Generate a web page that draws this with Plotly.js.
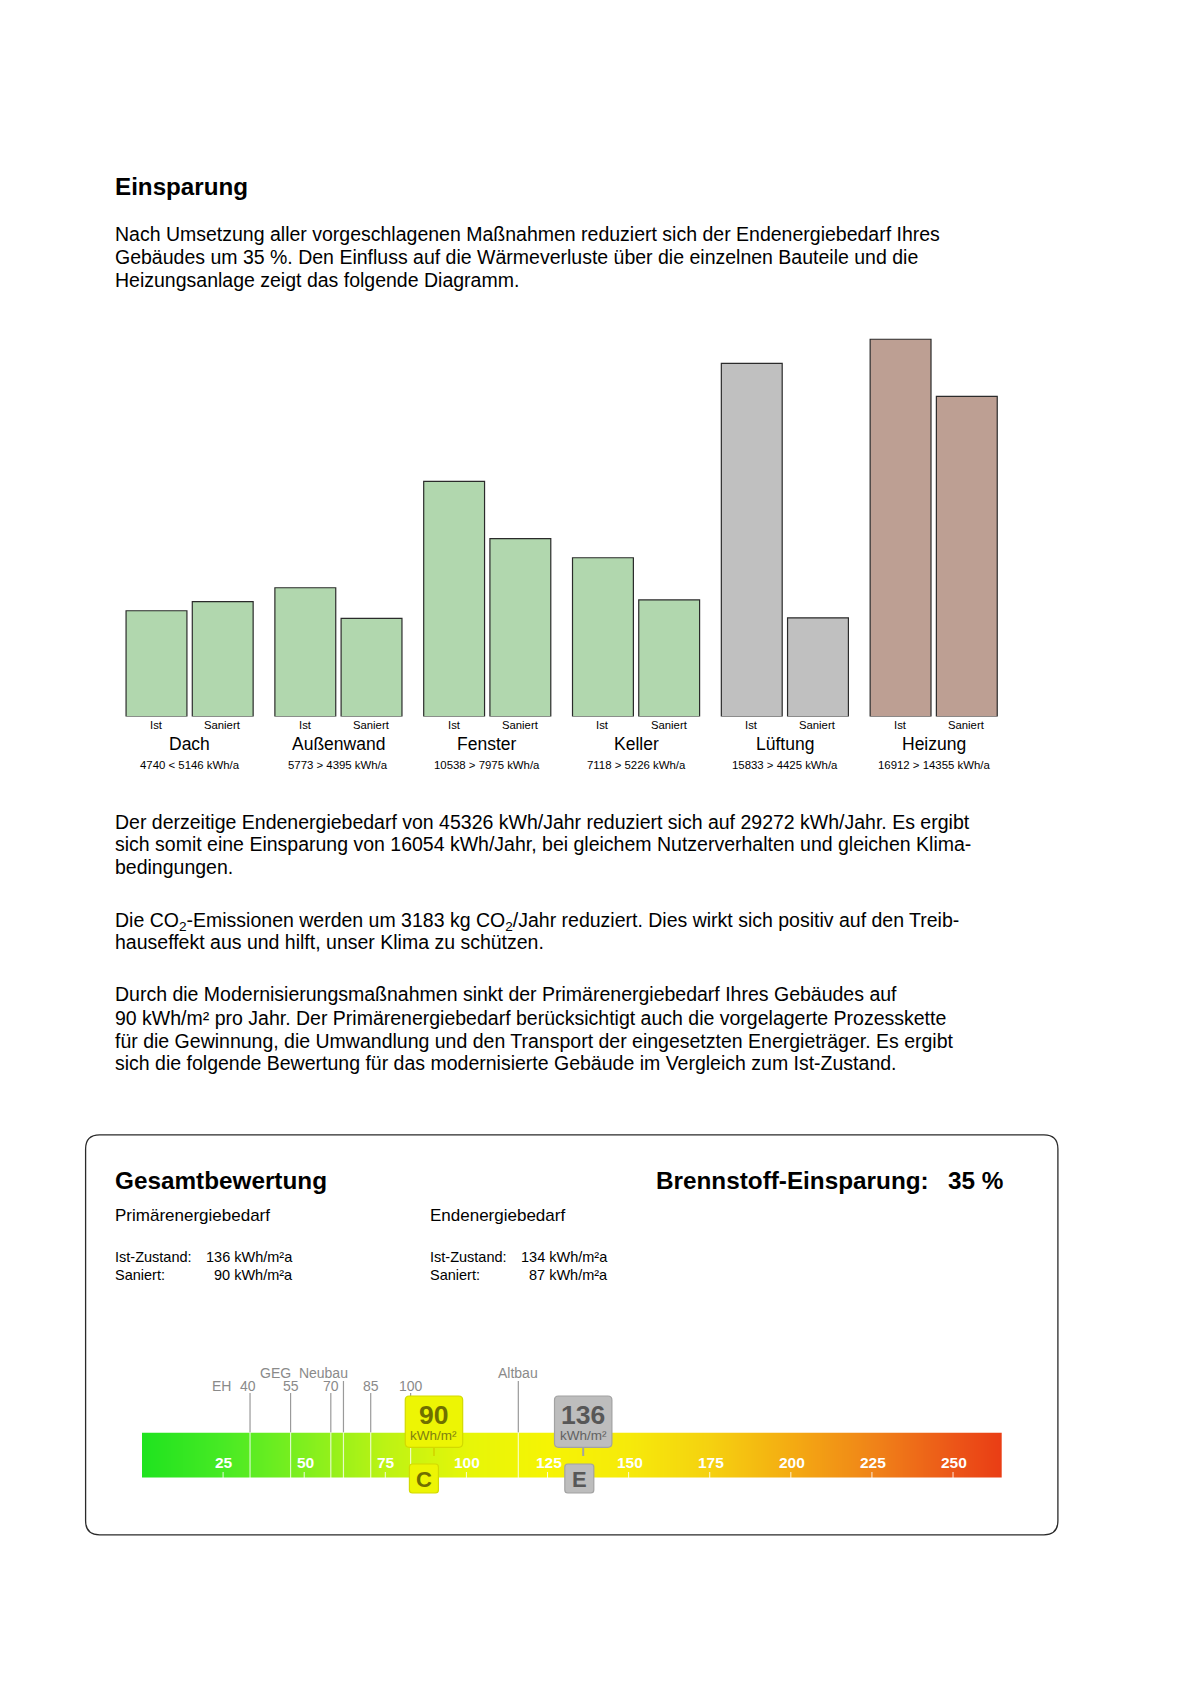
<!DOCTYPE html>
<html><head><meta charset="utf-8">
<script src="https://cdn.plot.ly/plotly-3.0.1.min.js"></script>
<style>html,body{margin:0;padding:0;background:#fff}#chart{width:1202px;height:1700px}</style>
</head><body><div id="chart"></div>
<script>
// ---------------- DATA ----------------
const categories = ["Dach", "Außenwand", "Fenster", "Keller", "Lüftung", "Heizung"];
const istValues = [4740, 5773, 10538, 7118, 15833, 16912];
const saniertValues = [5146, 4395, 7975, 5226, 4425, 14355];
const barLabels = ["Ist", "Saniert"];
const valueUnit = "kWh/a";

const endenergieIstJahr = 45326;
const endenergieSaniertJahr = 29272;
const endenergieEinsparungJahr = 16054;
const co2Reduktion = 3183;
const einsparungProzent = 35;

const primaerValues = [136, 90];   // Ist-Zustand, Saniert (kWh/m²a)
const endValues = [134, 87];       // Ist-Zustand, Saniert (kWh/m²a)

const scaleTicks = [25, 50, 75, 100, 125, 150, 175, 200, 225, 250];
const scaleMax = 265;
const refValues = [33.3, 45.8, 58.2, 62.1, 70.5, 82.8, 116];
const refLabels = ["40", "55", "70", "GEG\u00a0 Neubau", "85", "100", "Altbau"];
const markerValues = [90, 136];
const markerClasses = ["C", "E"];
const gradientStops = [0, 25, 50, 75, 100, 125, 150, 175, 200, 225, 250, 275];

// ---------------- STYLE / LAYOUT HELPERS ----------------
const W = 1202, H = 1700;
const FONT = 'Liberation Sans, Arial, Helvetica, sans-serif';
const px = x => x / W;
const py = y => 1 - y / H;
const LX = 113;
const barColors = ["#b1d7ae", "#b1d7ae", "#b1d7ae", "#b1d7ae", "#c0c0c0", "#bd9f93"];
const gradientColors = ["#1fe31f", "#48ea24", "#80ef1e", "#bcf314", "#e6f608", "#f6f404", "#f6ea0a",
                        "#f5d110", "#f4ab12", "#f08418", "#ec5618", "#e82c12"];

const annotations = [];
function txt(text, x, y, size, opts = {}) {
  annotations.push({
    xref: opts.xref || 'paper', yref: 'paper',
    x: opts.xref ? x : px(x), y: py(y),
    xanchor: opts.anchor || 'left', yanchor: 'middle',
    xshift: opts.xshift || 0,
    text: text, showarrow: false,
    font: { family: FONT, size: size, color: opts.color || '#000' }
  });
}

// Page text
txt("<b>Einsparung</b>", LX, 186.4, 24.2);
const p1 = ["Nach Umsetzung aller vorgeschlagenen Maßnahmen reduziert sich der Endenergiebedarf Ihres",
  "Gebäudes um " + einsparungProzent + " %. Den Einfluss auf die Wärmeverluste über die einzelnen Bauteile und die",
  "Heizungsanlage zeigt das folgende Diagramm."];
[234.1, 256.9, 279.6].forEach((y, i) => txt(p1[i], LX, y, 19.5));
const p2 = ["Der derzeitige Endenergiebedarf von " + endenergieIstJahr + " kWh/Jahr reduziert sich auf " + endenergieSaniertJahr + " kWh/Jahr. Es ergibt",
  "sich somit eine Einsparung von " + endenergieEinsparungJahr + " kWh/Jahr, bei gleichem Nutzerverhalten und gleichen Klima-",
  "bedingungen."];
[821.6, 844.4, 867.1].forEach((y, i) => txt(p2[i], LX, y, 19.5));
const p3 = ["Die CO<sub>2</sub>-Emissionen werden um " + co2Reduktion + " kg CO<sub>2</sub>/Jahr reduziert. Dies wirkt sich positiv auf den Treib-",
  "hauseffekt aus und hilft, unser Klima zu schützen."];
[921, 941.9].forEach((y, i) => txt(p3[i], LX, y, 19.5));
const p4 = ["Durch die Modernisierungsmaßnahmen sinkt der Primärenergiebedarf Ihres Gebäudes auf",
  primaerValues[1] + " kWh/m² pro Jahr. Der Primärenergiebedarf berücksichtigt auch die vorgelagerte Prozesskette",
  "für die Gewinnung, die Umwandlung und den Transport der eingesetzten Energieträger. Es ergibt",
  "sich die folgende Bewertung für das modernisierte Gebäude im Vergleich zum Ist-Zustand."];
[993.9, 1017.8, 1040.5, 1063.3].forEach((y, i) => txt(p4[i], LX, y, 19.5));

// Bar chart labels
const half = 0.2225;
categories.forEach((c, i) => {
  txt(barLabels[0], i - half, 725, 11.3, { xref: 'x', anchor: 'center' });
  txt(barLabels[1], i + half, 725, 11.3, { xref: 'x', anchor: 'center' });
  txt(c, i, 743.5, 17.5, { xref: 'x', anchor: 'center' });
  const cmp = istValues[i] < saniertValues[i] ? '&lt;' : '&gt;';
  txt(istValues[i] + " " + cmp + " " + saniertValues[i] + " " + valueUnit, i, 765, 11.4, { xref: 'x', anchor: 'center' });
});

// Panel text
txt("<b>Gesamtbewertung</b>", LX, 1180.4, 24.3);
txt("<b>Brennstoff-Einsparung:</b>", 654, 1180.4, 24.3);
txt("<b>" + einsparungProzent + " %</b>", 1005, 1180.4, 24.3, { anchor: 'right' });
txt("Primärenergiebedarf", LX, 1215, 17);
txt("Endenergiebedarf", 428, 1215, 17);
txt("Ist-Zustand:", LX, 1257.3, 14.5);
txt("Saniert:", LX, 1274.7, 14.5);
txt(primaerValues[0] + " kWh/m²a", 295, 1257.3, 14.5, { anchor: 'right' });
txt(primaerValues[1] + " kWh/m²a", 295, 1274.7, 14.5, { anchor: 'right' });
txt("Ist-Zustand:", 428, 1257.3, 14.5);
txt("Saniert:", 428, 1274.7, 14.5);
txt(endValues[0] + " kWh/m²a", 610, 1257.3, 14.5, { anchor: 'right' });
txt(endValues[1] + " kWh/m²a", 610, 1274.7, 14.5, { anchor: 'right' });

// Scale labels
const upper = l => (l.indexOf("Neubau") >= 0 || l === "Altbau");
refValues.forEach((v, i) => {
  const l = refLabels[i];
  if (upper(l)) {
    txt(l, v, 1372.7, 14, { xref: 'x2', anchor: l === "Altbau" ? 'center' : 'right', xshift: l === "Altbau" ? 0 : 7, color: '#8a8a8a' });
  } else {
    txt(l, v, 1386, 14, { xref: 'x2', anchor: 'center', color: '#8a8a8a', xshift: i === 0 ? -2 : 0 });
  }
});
txt("EH", refValues[0], 1386, 14, { xref: 'x2', anchor: 'right', xshift: -17, color: '#8a8a8a' });
scaleTicks.forEach(t => txt("<b>" + t + "</b>", t, 1462, 15.5, { xref: 'x2', anchor: 'center', xshift: 1, color: '#ffffff' }));

// ---------------- SHAPES ----------------
const shapes = [];
function rrPaper(x0, y0, x1, y1, r) {
  const X = v => px(v), Y = v => py(v);
  return `M${X(x0 + r)},${Y(y0)} L${X(x1 - r)},${Y(y0)} Q${X(x1)},${Y(y0)} ${X(x1)},${Y(y0 + r)} ` +
    `L${X(x1)},${Y(y1 - r)} Q${X(x1)},${Y(y1)} ${X(x1 - r)},${Y(y1)} L${X(x0 + r)},${Y(y1)} ` +
    `Q${X(x0)},${Y(y1)} ${X(x0)},${Y(y1 - r)} L${X(x0)},${Y(y0 + r)} Q${X(x0)},${Y(y0)} ${X(x0 + r)},${Y(y0)} Z`;
}
// outer panel
shapes.push({ type: 'path', xref: 'paper', yref: 'paper', path: rrPaper(85.6, 1134.8, 1057.9, 1534.8, 14),
  line: { color: '#2a2a2a', width: 1.3 }, fillcolor: 'rgba(0,0,0,0)' });

// scale geometry (for radius conversion only)
const scaleX0 = 142, scaleX1 = 1001.7, barTop = 1432.5, barBot = 1478;
const unitPx = (scaleX1 - scaleX0) / scaleMax;
function rrData(xc, halfPx, y0, y1, r, fill, stroke) {
  const x0 = xc - halfPx / unitPx, x1 = xc + halfPx / unitPx, rx = r / unitPx;
  const Y = v => py(v);
  const path = `M${x0 + rx},${Y(y0)} L${x1 - rx},${Y(y0)} Q${x1},${Y(y0)} ${x1},${Y(y0 + r)} ` +
    `L${x1},${Y(y1 - r)} Q${x1},${Y(y1)} ${x1 - rx},${Y(y1)} L${x0 + rx},${Y(y1)} ` +
    `Q${x0},${Y(y1)} ${x0},${Y(y1 - r)} L${x0},${Y(y0 + r)} Q${x0},${Y(y0)} ${x0 + rx},${Y(y0)} Z`;
  shapes.push({ type: 'path', xref: 'x2', yref: 'paper', path: path, fillcolor: fill, line: { color: stroke, width: 1.2 } });
}

// reference lines
refValues.forEach((v, i) => {
  const top = upper(refLabels[i]) ? 1381 : 1393;
  shapes.push({ type: 'line', xref: 'x2', yref: 'paper', x0: v, x1: v, y0: py(top), y1: py(barTop), line: { color: '#9a9a9a', width: 1.2 } });
  shapes.push({ type: 'line', xref: 'x2', yref: 'paper', x0: v, x1: v, y0: py(barTop), y1: py(barBot), line: { color: 'rgba(255,255,255,0.75)', width: 1.2 } });
});
// tick marks
scaleTicks.forEach(t => shapes.push({ type: 'line', xref: 'x2', yref: 'paper', x0: t, x1: t, y0: py(1472), y1: py(barBot), line: { color: 'rgba(255,255,255,0.85)', width: 1 } }));

// markers
const markerStyles = [
  { fill: '#edf504', stroke: '#d3da00', text: '#6f6f00', sub: '#808010', classShift: -3.1 },
  { fill: '#bdbdbd', stroke: '#a2a2a2', text: '#575757', sub: '#626262', classShift: -1.2 }
];
markerValues.forEach((v, i) => {
  const s = markerStyles[i];
  shapes.push({ type: 'line', xref: 'x2', yref: 'paper', x0: v, x1: v, y0: py(1446), y1: py(1456), line: { color: s.stroke, width: 2 } });
  rrData(v, 28.7, 1396, 1447.3, 4, s.fill, s.stroke);
  rrData(v + s.classShift, 14.5, 1464, 1493, 3, s.fill, s.stroke);
  txt("<b>" + v + "</b>", v, 1415, 26.5, { xref: 'x2', anchor: 'center', color: s.text });
  txt("kWh/m²", v, 1435.5, 13.5, { xref: 'x2', anchor: 'center', color: s.sub });
  txt("<b>" + markerClasses[i] + "</b>", v + s.classShift, 1479, 22, { xref: 'x2', anchor: 'center', color: s.text });
});

// ---------------- TRACES ----------------
const barWidth = 0.409;
const traces = [
  { type: 'bar', x: categories, y: istValues, width: barWidth, offset: -0.427, xaxis: 'x', yaxis: 'y',
    marker: { color: barColors, line: { color: '#2b2b2b', width: 1.2 } }, hoverinfo: 'skip', name: barLabels[0] },
  { type: 'bar', x: categories, y: saniertValues, width: barWidth, offset: 0.018, xaxis: 'x', yaxis: 'y',
    marker: { color: barColors, line: { color: '#2b2b2b', width: 1.2 } }, hoverinfo: 'skip', name: barLabels[1] },
  { type: 'heatmap', x: gradientStops, y: [0.5], z: [gradientStops], zmin: 0, zmax: gradientStops[gradientStops.length - 1],
    colorscale: gradientStops.map((g, i) => [g / gradientStops[gradientStops.length - 1], gradientColors[i]]),
    zsmooth: 'best', showscale: false, xaxis: 'x2', yaxis: 'y2', hoverinfo: 'skip' }
];

const layout = {
  width: W, height: H, autosize: false,
  margin: { l: 0, r: 0, t: 0, b: 0, pad: 0 },
  paper_bgcolor: '#ffffff', plot_bgcolor: 'rgba(0,0,0,0)',
  showlegend: false, barmode: 'overlay', hovermode: false,
  xaxis: { domain: [px(115.2), px(1008.1)], range: [-0.5, 5.5], type: 'category', visible: false, fixedrange: true },
  yaxis: { domain: [py(716.5), py(315)], range: [0, 18000], visible: false, fixedrange: true },
  xaxis2: { domain: [px(scaleX0), px(scaleX1)], range: [0, scaleMax], visible: false, anchor: 'y2', fixedrange: true },
  yaxis2: { domain: [py(barBot), py(barTop)], range: [0, 1], visible: false, anchor: 'x2', fixedrange: true },
  annotations: annotations,
  shapes: shapes
};

Plotly.newPlot('chart', traces, layout, { staticPlot: true, displayModeBar: false });
</script>
</body></html>
